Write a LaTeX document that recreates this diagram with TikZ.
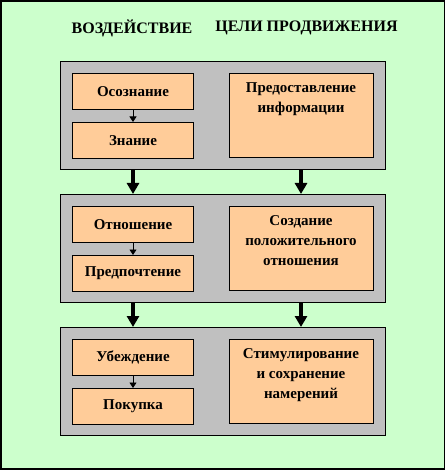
\documentclass[tikz,border=0pt]{standalone}
\usepackage{fontspec}
\setmainfont{Liberation Serif}
\usepackage{xcolor}
\usetikzlibrary{positioning, arrows.meta}

\definecolor{bggreen}{HTML}{CCFFCC}
\definecolor{panelgray}{HTML}{C0C0C0}
\definecolor{peach}{HTML}{FFCC99}

\newcommand{\goaltext}[1]{\parbox[c][76pt][t]{136pt}{\centering\fontsize{15}{20}\selectfont\bfseries\vspace*{5pt}#1}}

\begin{document}
\begin{tikzpicture}[x=1pt, y=-1pt, node distance=12pt,
    panel/.style={rectangle, draw=black, fill=panelgray, line width=1pt, minimum width=325pt, minimum height=108pt, inner sep=0pt},
    stage/.style={rectangle, draw=black, fill=peach, line width=1pt, minimum width=121pt, minimum height=36pt, inner sep=0pt, font=\fontsize{15}{20}\selectfont\bfseries},
    goal/.style={rectangle, draw=black, fill=peach, line width=1pt, inner sep=4pt},
    title/.style={font=\fontsize{16}{20}\selectfont\bfseries},
    small/.style={draw, -{Triangle[length=5.5pt, width=7pt]}, line width=0.8pt},
    big/.style={draw, -{Triangle[length=11pt, width=12pt]}, line width=4pt}]

    % background
    \useasboundingbox (0,0) rectangle (446,470);
    \draw[fill=bggreen, line width=1.2pt] (1,1) rectangle (444.5,469);

    % headings
    \node [title] (effect) at (132,28) {ВОЗДЕЙСТВИЕ};
    \node [title] (goals) at (306.5,28) {ЦЕЛИ ПРОДВИЖЕНИЯ};

    % panels
    \node [panel, anchor=north west] (pan1) at (60,61) {};
    \node [panel, below=24pt of pan1] (pan2) {};
    \node [panel, below=24pt of pan2] (pan3) {};

    % first panel
    \node [stage, below right=12pt and 12pt of pan1.north west] (aware) {Осознание};
    \node [stage, below=of aware] (know) {Знание};
    \node [goal, below left=12pt and 12.5pt of pan1.north east] (inform) {\goaltext{Предоставление\\информации}};

    % second panel
    \node [stage, below right=12pt and 12pt of pan2.north west] (attitude) {Отношение};
    \node [stage, below=of attitude] (prefer) {Предпочтение};
    \node [goal, below left=12pt and 12.5pt of pan2.north east] (positive) {\goaltext{Создание\\положительного\\отношения}};

    % third panel
    \node [stage, below right=12pt and 12pt of pan3.north west] (convince) {Убеждение};
    \node [stage, below=of convince] (buy) {Покупка};
    \node [goal, below left=12pt and 12.5pt of pan3.north east] (intent) {\goaltext{Стимулирование\\и сохранение\\намерений}};

    \path [small] (aware) -- (know);
    \path [small] (attitude) -- (prefer);
    \path [small] (convince) -- (buy);

    \path [big] (aware |- pan1.south) -- (aware |- pan2.north);
    \path [big] (inform |- pan1.south) -- (inform |- pan2.north);
    \path [big] (attitude |- pan2.south) -- (attitude |- pan3.north);
    \path [big] (positive |- pan2.south) -- (positive |- pan3.north);
\end{tikzpicture}
\end{document}
